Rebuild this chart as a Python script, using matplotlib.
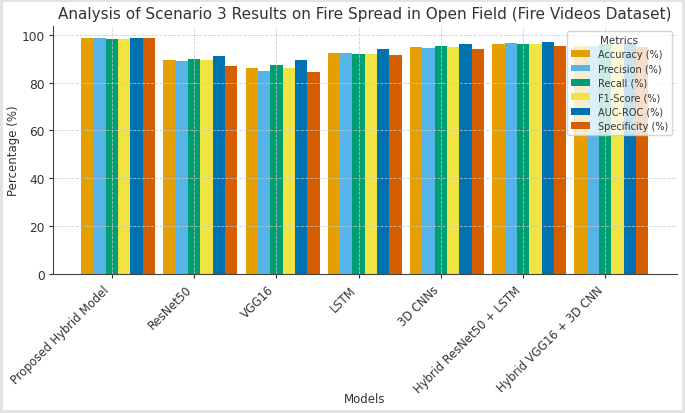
import matplotlib.pyplot as plt
import numpy as np

# values
models = ['Proposed Hybrid Model', 'ResNet50', 'VGG16', 'LSTM', '3D CNNs',
          'Hybrid ResNet50 + LSTM', 'Hybrid VGG16 + 3D CNN']
metrics = ['Accuracy (%)', 'Precision (%)', 'Recall (%)', 'F1-Score (%)',
           'AUC-ROC (%)', 'Specificity (%)']
accuracy = [98.5, 89.4, 86.1, 92.2, 94.9, 96.1, 95.5]
precision = [98.5, 88.9, 84.9, 92.6, 94.6, 96.4, 95.3]
recall = [98.1, 90.1, 87.4, 91.8, 95.3, 96.0, 96.0]
f1_score = [98.3, 89.6, 86.1, 92.1, 94.9, 96.1, 95.8]
auc_roc = [98.8, 91.1, 89.3, 94.0, 96.0, 97.0, 96.4]
specificity = [98.6, 86.8, 84.5, 91.4, 94.2, 95.4, 94.9]

series = [accuracy, precision, recall, f1_score, auc_roc, specificity]
colors = ['#E69F00', '#56B4E9', '#009E73', '#F0E442', '#0072B2', '#D55E00']

fig, ax = plt.subplots(figsize=(6.85, 4.14), dpi=100)
fig.patch.set_edgecolor('#e3e3e3')
fig.patch.set_linewidth(3)

bar_width = 0.15
index = np.arange(len(models))

for i, (vals, lab) in enumerate(zip(series, metrics)):
    ax.bar(index + i * bar_width, vals, bar_width, color=colors[i], label=lab)

text_col = '#333333'
ax.set_title('Analysis of Scenario 3 Results on Fire Spread in Open Field (Fire Videos Dataset)',
             fontsize=11, color=text_col, pad=6)
ax.set_xlabel('Models', fontsize=8.5, color=text_col)
ax.xaxis.set_label_coords(0.5, -0.475)
ax.set_ylabel('Percentage (%)', fontsize=8.5, color=text_col, labelpad=1)
ax.set_xticks(index + bar_width * 2)
ax.set_xticklabels(models, rotation=45, ha='right')
ax.tick_params(labelsize=8.3, colors=text_col, length=3)
ax.tick_params(axis='y', labelsize=8.8, pad=2.5)

ax.grid(True, linestyle='--', color='#c8c8c8', linewidth=0.6, alpha=0.85)
ax.spines['top'].set_visible(False)
ax.spines['right'].set_visible(False)
ax.spines['left'].set_color('#444444')
ax.spines['bottom'].set_color('#444444')

leg = ax.legend(title='Metrics', fontsize=7, title_fontsize=7.5, loc='upper right',
                handlelength=2.0, labelspacing=0.45)
for t in leg.get_texts():
    t.set_color(text_col)
leg.get_title().set_color(text_col)

plt.subplots_adjust(left=0.077, right=0.988, top=0.935, bottom=0.336)
plt.savefig('out.png')
